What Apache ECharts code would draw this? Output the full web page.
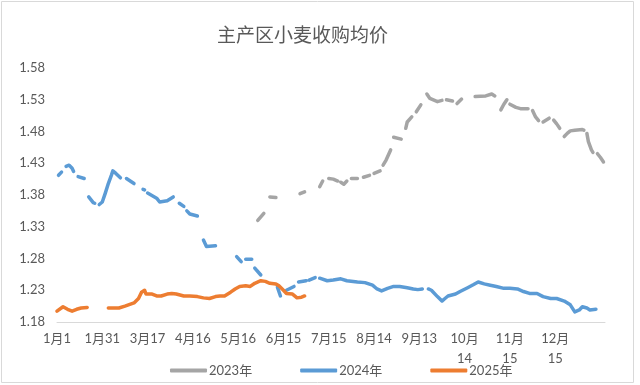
<!DOCTYPE html>
<html>
<head>
<meta charset="utf-8">
<script src="https://cdn.jsdelivr.net/npm/echarts@6/dist/echarts.min.js"></script>
<style>
html,body{margin:0;padding:0;background:#fff;}
#c{width:640px;height:385px;}
</style>
</head>
<body>
<div id="c"></div>
<script>
// Tick labels on the category (day index) axis, one every 30 entries
var tickLabels = ['1月1','1月31','3月17','4月16','5月16','6月15','7月15','8月14','9月13','10月\n14','11月\n15','12月\n15'];
var seriesNames = ['2023年','2024年','2025年'];

// Each series: list of visible segments, each segment a list of [dayIndex, price]
var s2023 = [
  [[133,1.340],[137,1.351]],
  [[141,1.377],[145,1.376]],
  [[161,1.382],[164,1.385]],
  [[174,1.393],[176,1.402]],
  [[180,1.406],[183,1.405],[186,1.402]],
  [[188,1.400],[190,1.397],[192,1.402]],
  [[195,1.406],[199,1.406]],
  [[203,1.408],[207,1.411]],
  [[210,1.414],[214,1.418]],
  [[216,1.427],[218,1.435],[221,1.451]],
  [[223,1.471],[228,1.468]],
  [[231,1.485],[232,1.495],[235,1.503]],
  [[238,1.511],[241,1.522]],
  [[245,1.539],[247,1.532],[252,1.527],[255,1.529]],
  [[258,1.530],[262,1.528]],
  [[265,1.524],[268,1.531]],
  [[277,1.535],[284,1.536],[288,1.539],[290,1.536]],
  [[294,1.514],[296,1.523],[298,1.530]],
  [[300,1.523],[304,1.518],[307,1.516],[312,1.516]],
  [[315,1.513],[317,1.503],[319,1.497]],
  [[322,1.495],[326,1.501]],
  [[329,1.498],[331,1.492],[333,1.485]],
  [[336,1.472],[338,1.477],[340,1.481],[343,1.482],[348,1.483],[349,1.482]],
  [[351,1.477],[352,1.464],[354,1.451],[355,1.447]],
  [[358,1.445],[360,1.439],[362,1.432]]
];
var s2024 = [
  [[1,1.411],[3,1.416]],
  [[6,1.425],[8,1.427],[10,1.422],[11,1.417]],
  [[14,1.409],[18,1.406]],
  [[21,1.377],[24,1.368],[25,1.367]],
  [[28,1.365],[30,1.369],[32,1.383],[34,1.398],[36,1.411],[37,1.418],[39,1.414],[42,1.407]],
  [[46,1.406],[51,1.398]],
  [[57,1.389],[58,1.388]],
  [[60,1.383],[66,1.375],[68,1.369],[73,1.371],[77,1.377]],
  [[81,1.367],[84,1.362]],
  [[86,1.355],[88,1.350],[93,1.347]],
  [[97,1.309],[99,1.299],[105,1.300]],
  [[119,1.283],[122,1.275]],
  [[125,1.279],[129,1.279]],
  [[131,1.265],[135,1.254]],
  [[146,1.235],[148,1.221]],
  [[152,1.230],[157,1.236]],
  [[160,1.243],[165,1.245]],
  [[167,1.246],[171,1.250]],
  [[174,1.249],[179,1.245],[183,1.246],[188,1.248],[192,1.245],[199,1.243],[204,1.242],[209,1.238],[212,1.232],[215,1.229],[219,1.233],[223,1.236],[227,1.236],[232,1.234],[236,1.232],[239,1.231],[242,1.232]],
  [[246,1.232],[248,1.230],[252,1.220],[255,1.213],[257,1.217],[259,1.221],[264,1.224],[267,1.228],[272,1.234],[276,1.239],[279,1.243],[283,1.240],[287,1.238],[291,1.236],[296,1.233],[300,1.233],[305,1.232],[309,1.228],[313,1.225],[318,1.225],[322,1.220],[327,1.217],[331,1.217],[336,1.213],[340,1.207],[343,1.196],[346,1.199],[348,1.204],[351,1.202],[353,1.199],[357,1.200]]
];
var s2025 = [
  [[0,1.197],[4,1.204],[7,1.200],[10,1.197],[13,1.200],[16,1.202],[20,1.203]],
  [[34,1.202],[41,1.202],[45,1.205],[51,1.210],[54,1.217],[56,1.227],[58,1.230],[59,1.224],[63,1.224],[66,1.221],[69,1.221],[73,1.224],[76,1.225],[79,1.224],[84,1.221],[88,1.221],[93,1.220],[97,1.218],[101,1.217],[105,1.220],[108,1.221],[111,1.221],[115,1.227],[118,1.232],[121,1.236],[125,1.237],[128,1.236],[131,1.241],[135,1.245],[138,1.244],[141,1.241],[145,1.240],[147,1.237],[150,1.230],[152,1.225],[156,1.224],[159,1.218],[162,1.219],[164,1.221]]
];

function flatten(segs){
  var out = [];
  segs.forEach(function(seg, k){
    if (k > 0) out.push([seg[0][0] - 0.5, '-']);
    seg.forEach(function(p){ out.push(p); });
  });
  return out;
}

var colors = ['#A5A5A5','#5B9BD5','#ED7D31'];
var allSeries = [s2023, s2024, s2025];
var font = 'Lato, "Noto Sans", "Noto Sans CJK SC", sans-serif';

var chart = echarts.init(document.getElementById('c'), null, {renderer:'canvas'});
chart.setOption({
  animation: false,
  color: colors,
  title: {
    text: '主产区小麦收购均价',
    left: 217, top: 25, padding: 0,
    textStyle: {fontFamily: '"Noto Sans CJK SC", sans-serif', fontSize: 19, fontWeight: 'normal', color: '#595959'}
  },
  graphic: [{
    type: 'rect', shape: {x: 1.5, y: 1.5, width: 632, height: 381},
    style: {fill: 'none', stroke: '#D9D9D9', lineWidth: 1}, silent: true, z: -1
  }],
  legend: {
    left: 165, top: 359,
    itemWidth: 37, itemHeight: 4, itemGap: 48,
    icon: 'roundRect',
    textStyle: {fontFamily: font, fontSize: 13, color: '#595959', padding: [0,0,0,-3]},
    data: seriesNames
  },
  grid: {left: 57, right: 35, top: 68, bottom: 63, containLabel: false},
  xAxis: {
    type: 'value', min: 0, max: 363, interval: 30,
    axisLine: {show: true, lineStyle: {color: '#D9D9D9', width: 1}},
    axisTick: {show: false},
    splitLine: {show: false},
    axisLabel: {
      margin: 7, fontFamily: font, fontSize: 13, color: '#595959', lineHeight: 20,
      showMaxLabel: false,
      formatter: function(v){
        if (v % 30 !== 0) return '';
        var l = tickLabels[v / 30];
        return l === undefined ? '' : l;
      }
    }
  },
  yAxis: {
    type: 'value', min: 1.18, max: 1.58, interval: 0.05,
    axisLine: {show: false}, axisTick: {show: false}, splitLine: {show: false},
    axisLabel: {margin: 12, fontFamily: font, fontSize: 13, color: '#595959',
      formatter: function(v){ return v.toFixed(2); }}
  },
  series: allSeries.map(function(s, i){
    return {
      name: seriesNames[i], type: 'line', data: flatten(s),
      showSymbol: false, symbol: 'none', connectNulls: false,
      lineStyle: {width: 3.5, color: colors[i], cap: 'round', join: 'round'},
      itemStyle: {color: colors[i]},
      z: i === 2 ? 3 : 2
    };
  })
});
</script>
</body>
</html>
